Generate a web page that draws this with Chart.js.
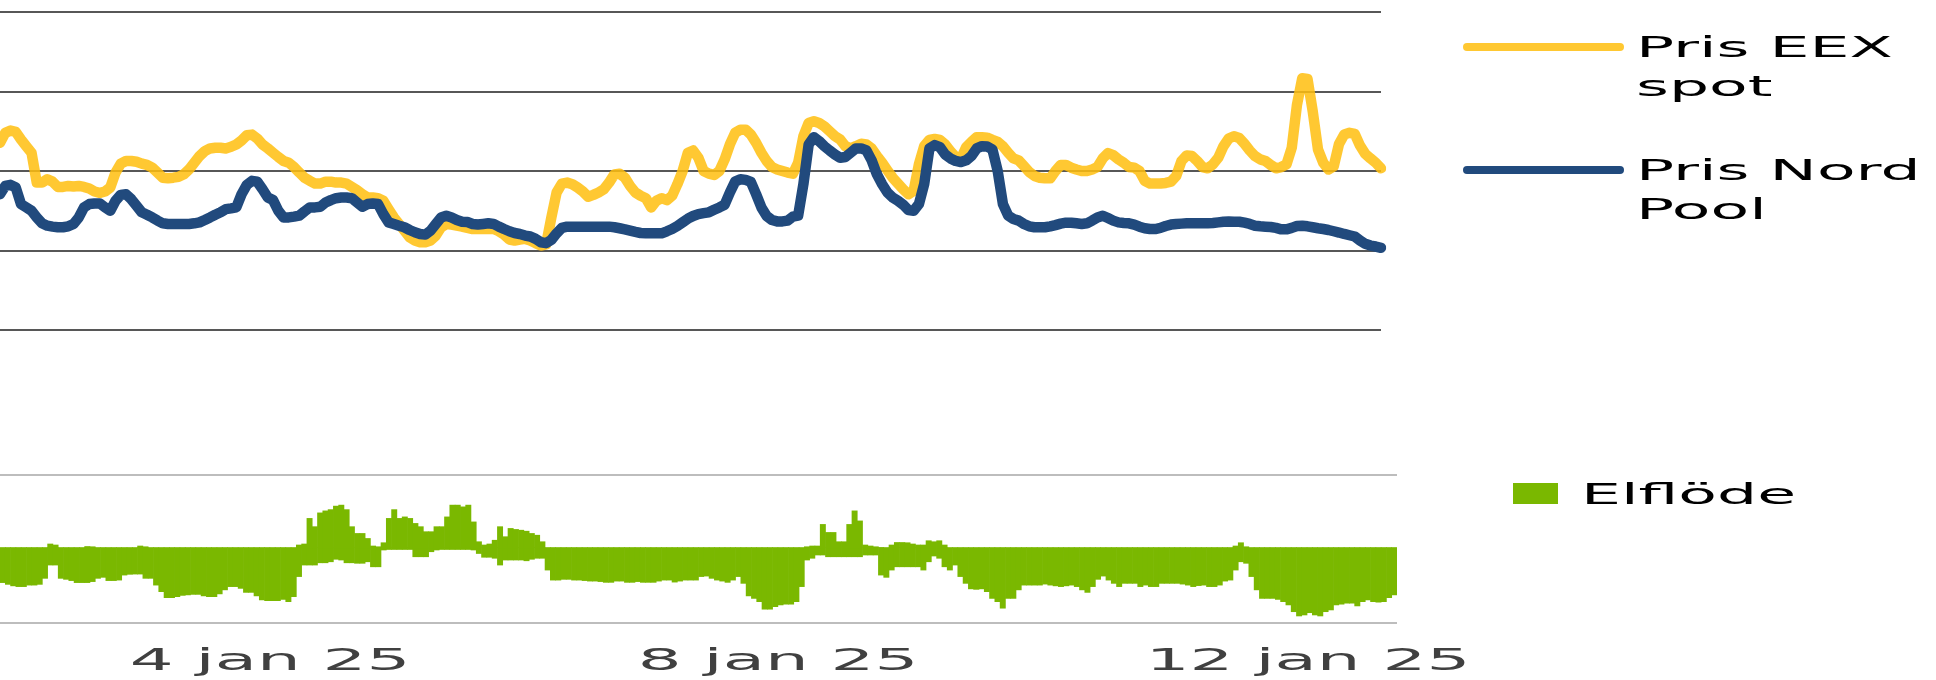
<!DOCTYPE html>
<html><head><meta charset="utf-8">
<script src="https://cdn.jsdelivr.net/npm/chart.js@4.4.1/dist/chart.umd.min.js"></script>
<style>
html,body{margin:0;padding:0;background:#fff;width:1936px;height:680px;overflow:hidden;}
#top{position:absolute;left:0;top:0;width:1936px;height:345px;}
#bot{position:absolute;left:0;top:460px;width:1936px;height:220px;}
.lgt{position:absolute;font-family:"DejaVu Sans";font-size:29px;line-height:39px;color:#000;white-space:nowrap;transform:scaleX(2.18);transform-origin:0 0;}
.lgb{position:absolute;}
</style></head>
<body>
<div id="top"><canvas id="c1"></canvas></div>
<div id="bot"><canvas id="c2"></canvas></div>
<div id="legend"></div>
<script>
// ---- categories (hourly, 3 jan 2025 00:00 .. 13 jan 2025 23:00) ----
const hours = [];
for (let d = 3; d <= 13; d++) for (let h = 0; h < 24; h++) hours.push('2025-01-' + String(d).padStart(2,'0') + ' ' + String(h).padStart(2,'0') + ':00');

// ---- x tick labels ----
const tickHours = [24, 120, 216];
const tickLabels = ['4 jan 25', '8 jan 25', '12 jan 25'];

// ---- series names ----
const eexName = ['Pris EEX', 'spot'];
const nordPoolName = ['Pris Nord', 'Pool'];
const flowName = ['Elflöde'];

// ---- price series ----
const priceEEX = [
117.7,124.0,125.4,124.6,119.8,115.6,111.5,92.7,92.7,94.8,
93.3,90.0,90.0,90.6,90.2,90.6,90.0,89.0,87.1,86.3,
87.1,89.6,99.0,104.6,106.3,106.3,105.8,104.6,103.8,102.1,
99.0,95.8,95.4,95.8,96.3,97.9,101.0,105.2,109.4,112.5,
114.2,114.6,114.6,114.2,115.2,116.7,119.2,122.5,122.9,120.4,
116.7,114.2,111.5,108.8,106.3,105.2,102.5,99.0,95.8,93.8,
92.1,92.1,93.3,93.3,92.7,92.7,92.1,90.0,87.9,85.4,
83.3,83.3,82.9,81.3,76.0,70.8,66.7,62.5,58.3,56.3,
55.2,55.2,56.3,59.4,64.6,66.7,66.3,65.6,65.0,64.2,
63.5,63.5,63.5,63.5,63.5,62.1,60.0,56.9,56.3,56.9,
57.3,56.3,54.6,53.1,53.8,70.8,86.5,92.1,92.7,91.7,
89.6,87.1,83.8,85.0,86.5,88.5,92.7,97.9,98.3,95.8,
90.6,86.5,84.4,82.9,77.1,81.3,82.9,81.7,84.4,91.7,
100.0,111.5,112.9,108.3,100.0,98.3,97.5,100.0,107.3,116.7,
124.0,126.0,126.0,122.9,117.7,111.5,106.3,102.5,101.0,100.0,
99.0,98.3,105.2,121.9,130.2,131.3,130.2,128.1,125.0,121.9,
119.8,115.6,114.2,115.6,117.1,116.7,114.2,109.4,105.2,100.4,
95.8,92.1,88.5,85.4,87.5,104.2,115.6,119.6,120.2,119.6,
116.7,112.5,108.8,107.7,115.0,118.3,121.3,121.3,121.0,119.6,
118.3,115.6,111.5,107.9,106.7,103.1,99.4,96.9,95.8,95.4,
95.4,100.0,103.8,103.8,102.1,101.0,100.0,100.0,101.0,102.5,
107.9,111.3,110.0,107.3,105.2,102.5,102.1,100.0,93.8,92.1,
92.1,92.1,92.5,93.3,96.9,106.3,109.8,109.4,106.3,102.5,
101.7,104.2,108.3,115.6,120.4,121.9,120.8,117.1,112.9,109.4,
107.3,106.3,103.8,101.7,102.5,104.2,114.6,141.7,158.3,157.9,
137.5,113.5,105.2,101.0,103.0,117.0,123.0,124.0,123.3,116.0,
110.8,107.9,105.2,101.7
];
const priceNordPool = [
85.4,90.6,91.3,89.6,79.2,77.1,75.0,70.8,67.1,65.6,
65.0,64.6,64.6,65.2,66.7,70.8,77.1,79.2,79.6,79.6,
77.1,75.0,81.3,85.0,85.4,82.3,78.1,74.0,72.5,70.8,
68.8,67.1,66.7,66.7,66.7,66.7,66.7,67.1,67.7,69.2,
70.8,72.5,74.0,76.0,76.5,77.1,85.4,91.3,93.8,93.3,
88.5,83.3,81.7,75.0,70.8,70.8,71.3,71.9,74.6,77.1,
77.1,77.5,80.2,81.7,82.9,83.3,83.3,82.9,80.2,77.5,
79.2,79.6,79.2,72.9,67.7,66.7,65.6,64.6,62.9,61.5,
60.4,60.0,62.5,66.7,70.8,71.9,70.8,69.2,68.1,67.9,
66.7,66.3,66.7,67.1,66.7,65.0,63.5,62.1,61.0,60.4,
59.4,58.8,57.3,55.2,54.6,56.7,60.8,64.2,65.0,65.0,
65.0,65.0,65.0,65.0,65.0,65.0,65.0,64.6,64.0,63.3,
62.5,61.7,61.0,60.8,60.8,60.8,60.8,62.1,63.5,65.4,
67.7,70.0,71.7,72.9,73.5,74.0,75.6,77.1,78.8,86.5,
93.3,94.8,94.4,93.1,85.4,77.1,71.7,69.2,68.3,68.3,
68.8,71.3,71.9,91.7,116.7,121.3,118.8,115.6,112.9,110.4,
108.3,108.8,111.5,114.2,114.2,112.9,106.7,97.9,91.7,86.5,
83.3,81.3,78.8,75.4,75.0,79.2,91.7,114.2,116.3,115.0,
110.4,107.9,106.3,105.6,106.7,109.4,114.2,115.6,115.4,113.5,
100.0,79.2,71.9,69.8,68.8,66.7,65.2,64.6,64.6,64.6,
65.2,66.0,66.9,67.5,67.5,67.1,66.7,67.1,68.8,70.8,
71.9,70.4,68.8,67.7,67.3,67.1,66.3,65.0,64.0,63.5,
63.5,64.2,65.4,66.3,66.7,66.9,67.1,67.1,67.1,67.1,
67.1,67.3,67.7,68.1,68.3,68.1,68.1,67.5,66.7,65.6,
65.2,65.0,64.8,64.2,63.3,63.3,64.2,65.4,65.6,65.2,
64.6,64.0,63.5,62.9,62.1,61.3,60.4,59.6,58.8,56.3,
54.2,53.1,52.5,51.7
];

// ---- power flow: export (positive) and import (negative) part per hour ----
const flowExport = [
0,0,0,0,0,0,0,0,0,150,
110,0,0,0,0,0,50,40,0,0,
0,0,0,0,0,0,70,40,0,0,
0,0,0,0,0,0,0,0,0,0,
0,0,0,0,0,0,0,0,0,0,
0,0,0,0,0,0,110,150,1170,840,
1390,1470,1520,1660,1700,1520,840,570,570,370,
70,40,200,1170,1520,1170,1230,1170,970,840,
640,640,840,840,1230,1700,1700,1630,1700,1030,
240,110,150,300,840,440,770,730,700,660,
570,500,240,0,0,0,0,0,0,0,
0,0,0,0,0,0,0,0,0,0,
0,0,0,0,0,0,0,0,0,0,
0,0,0,0,0,0,0,0,0,0,
0,0,0,0,0,0,0,0,0,0,
0,0,40,70,70,930,610,610,240,240,
930,1470,1070,110,70,40,10,0,110,210,
210,200,150,110,110,280,240,280,110,0,
0,0,0,0,0,0,0,0,0,0,
0,0,0,0,0,0,0,0,0,0,
0,0,0,0,0,0,0,0,0,0,
0,0,0,0,0,0,0,0,0,0,
0,0,0,0,0,0,0,0,0,0,
0,0,0,70,200,40,0,0,0,0,
0,0,0,0,0,0,0,0,0,0,
0,0,0,0,0,0,0,0,0,0,
0,0,0,0
];
const flowImport = [
-1390,-1460,-1520,-1550,-1550,-1490,-1490,-1460,-1220,-690,
-690,-1220,-1260,-1310,-1390,-1390,-1390,-1350,-1220,-1180,
-1310,-1310,-1290,-1090,-1060,-1050,-1050,-1220,-1220,-1490,
-1750,-1990,-1990,-1950,-1900,-1880,-1860,-1860,-1920,-1950,
-1950,-1840,-1680,-1550,-1550,-1620,-1780,-1780,-1920,-2080,
-2110,-2110,-2110,-2060,-2150,-1950,-1150,-690,-690,-690,
-600,-600,-560,-460,-490,-600,-600,-620,-620,-560,
-760,-760,-90,-70,-70,-70,-70,-70,-360,-360,
-360,-160,-90,-70,-70,-70,-70,-70,-70,-90,
-230,-380,-380,-420,-690,-490,-490,-490,-490,-520,
-460,-420,-420,-890,-1290,-1290,-1260,-1260,-1290,-1290,
-1310,-1330,-1330,-1350,-1380,-1380,-1330,-1330,-1380,-1380,
-1350,-1380,-1380,-1380,-1330,-1290,-1290,-1370,-1330,-1290,
-1290,-1290,-1150,-1130,-1220,-1290,-1330,-1380,-1290,-1150,
-1420,-1920,-2020,-2150,-2450,-2450,-2350,-2280,-2250,-2250,
-2150,-1550,-490,-420,-290,-290,-360,-360,-360,-360,
-360,-360,-360,-290,-290,-290,-1090,-1180,-890,-760,
-760,-760,-760,-760,-890,-560,-330,-420,-760,-890,
-690,-1150,-1420,-1640,-1660,-1640,-1750,-2020,-2150,-2410,
-2020,-2020,-1680,-1490,-1490,-1490,-1490,-1450,-1490,-1520,
-1550,-1520,-1490,-1550,-1680,-1780,-1550,-1260,-1130,-1290,
-1420,-1550,-1420,-1420,-1420,-1550,-1490,-1550,-1550,-1420,
-1420,-1420,-1420,-1450,-1490,-1550,-1510,-1490,-1550,-1550,
-1490,-1330,-1290,-890,-560,-620,-1150,-1680,-2020,-2020,
-2020,-2060,-2150,-2280,-2550,-2720,-2680,-2590,-2680,-2720,
-2550,-2480,-2280,-2250,-2210,-2210,-2320,-2150,-2080,-2150,
-2170,-2150,-1990,-1880
];

// ---- axis ranges ----
const priceMin = 0, priceMax = 200, priceStep = 50;
const flowMin = -3000, flowMax = 2900;

const YELLOW = 'rgba(255,190,14,0.85)';
const YELLOW_SOLID = 'rgb(255,200,50)';
const BLUE = '#214A7D';
const GREEN = '#7AB800';

// Stretches canvas text horizontally (reference text is drawn wide)
const stretchText = {
  id: 'stretchText',
  beforeInit(chart, args, opts) {
    const ctx = chart.ctx;
    const sx = opts.sx || 1;
    const origFill = ctx.fillText;
    const origMeasure = ctx.measureText;
    ctx.fillText = function (t, x, y) {
      this.save(); this.translate(x, y); this.scale(sx, 1);
      origFill.call(this, t, 0, 0);
      this.restore();
    };
    ctx.measureText = function (t) {
      const m = origMeasure.call(this, t);
      return { width: m.width * sx, actualBoundingBoxAscent: m.actualBoundingBoxAscent, actualBoundingBoxDescent: m.actualBoundingBoxDescent };
    };
  }
};

const priceChart = new Chart(document.getElementById('c1'), {
  type: 'line',
  data: {
    labels: hours,
    datasets: [
      { label: nordPoolName.join(' '), data: priceNordPool, borderColor: BLUE, backgroundColor: BLUE, borderWidth: 10.5, order: 0 },
      { label: eexName.join(' '), data: priceEEX, borderColor: YELLOW, backgroundColor: YELLOW_SOLID, borderWidth: 10.5, order: 1 }
    ]
  },
  options: {
    responsive: true, maintainAspectRatio: false, animation: false, devicePixelRatio: 1,
    layout: { padding: { left: 0, right: 555, top: 12, bottom: 15 } },
    elements: {
      point: { radius: 0, hoverRadius: 0 },
      line: { tension: 0, borderCapStyle: 'round', borderJoinStyle: 'round', fill: false }
    },
    scales: {
      x: { display: false },
      y: {
        min: priceMin, max: priceMax,
        ticks: { display: false, stepSize: priceStep },
        grid: { color: '#575757', lineWidth: 2, drawTicks: false },
        border: { display: false }
      }
    },
    plugins: { legend: { display: false }, tooltip: { enabled: false } }
  }
});

const flowChart = new Chart(document.getElementById('c2'), {
  type: 'bar',
  data: {
    labels: hours,
    datasets: [
      { label: flowName[0], data: flowExport, backgroundColor: GREEN, borderWidth: 0, stack: 'flow', barPercentage: 1, categoryPercentage: 1 },
      { label: flowName[0] + ' (import)', data: flowImport, backgroundColor: GREEN, borderWidth: 0, stack: 'flow', barPercentage: 1, categoryPercentage: 1 }
    ]
  },
  options: {
    responsive: true, maintainAspectRatio: false, animation: false, devicePixelRatio: 1,
    layout: { padding: { left: 0, right: 539, top: 15, bottom: 0 } },
    scales: {
      x: {
        stacked: true,
        grid: { display: true, drawOnChartArea: false, drawTicks: true, tickLength: 21, tickColor: 'rgba(0,0,0,0)' },
        border: { display: false },
        ticks: {
          autoSkip: false, maxRotation: 0, minRotation: 0, align: 'start', padding: 0,
          color: '#404040', font: { family: 'DejaVu Sans', size: 30 },
          callback: function (v, i) { const k = tickHours.indexOf(i); return k >= 0 ? tickLabels[k] : ''; }
        },
        afterFit: function (s) { s.height = 57; }
      },
      y: {
        stacked: true, min: flowMin, max: flowMax,
        ticks: { display: false },
        grid: { color: '#bdbdbd', lineWidth: 2, drawTicks: false },
        border: { display: false },
        afterBuildTicks: function (s) { s.ticks = [{ value: flowMin }, { value: flowMax }]; }
      }
    },
    plugins: { legend: { display: false }, tooltip: { enabled: false }, stretchText: { sx: 2.3 } }
  },
  plugins: [stretchText]
});

// ---- HTML legend built from the charts' datasets ----
const legendEl = document.getElementById('legend');
const legendItems = [
  { chart: priceChart, ds: 1, lines: eexName, kind: 'line', box: [1463, 43, 161, 8], text: [1636, 28] },
  { chart: priceChart, ds: 0, lines: nordPoolName, kind: 'line', box: [1463, 166, 161, 8], text: [1636, 151] },
  { chart: flowChart, ds: 0, lines: flowName, kind: 'box', box: [1513, 483, 45, 21], text: [1581, 475] }
];
legendItems.forEach(it => {
  const d = it.chart.data.datasets[it.ds];
  const b = document.createElement('div');
  b.className = 'lgb';
  b.style.left = it.box[0] + 'px'; b.style.top = it.box[1] + 'px';
  b.style.width = it.box[2] + 'px'; b.style.height = it.box[3] + 'px';
  b.style.background = d.backgroundColor;
  if (it.kind === 'line') b.style.borderRadius = (it.box[3] / 2) + 'px';
  legendEl.appendChild(b);
  const t = document.createElement('div');
  t.className = 'lgt';
  t.style.left = it.text[0] + 'px'; t.style.top = it.text[1] + 'px';
  t.innerHTML = it.lines.join('<br>');
  legendEl.appendChild(t);
});
</script>
</body></html>
